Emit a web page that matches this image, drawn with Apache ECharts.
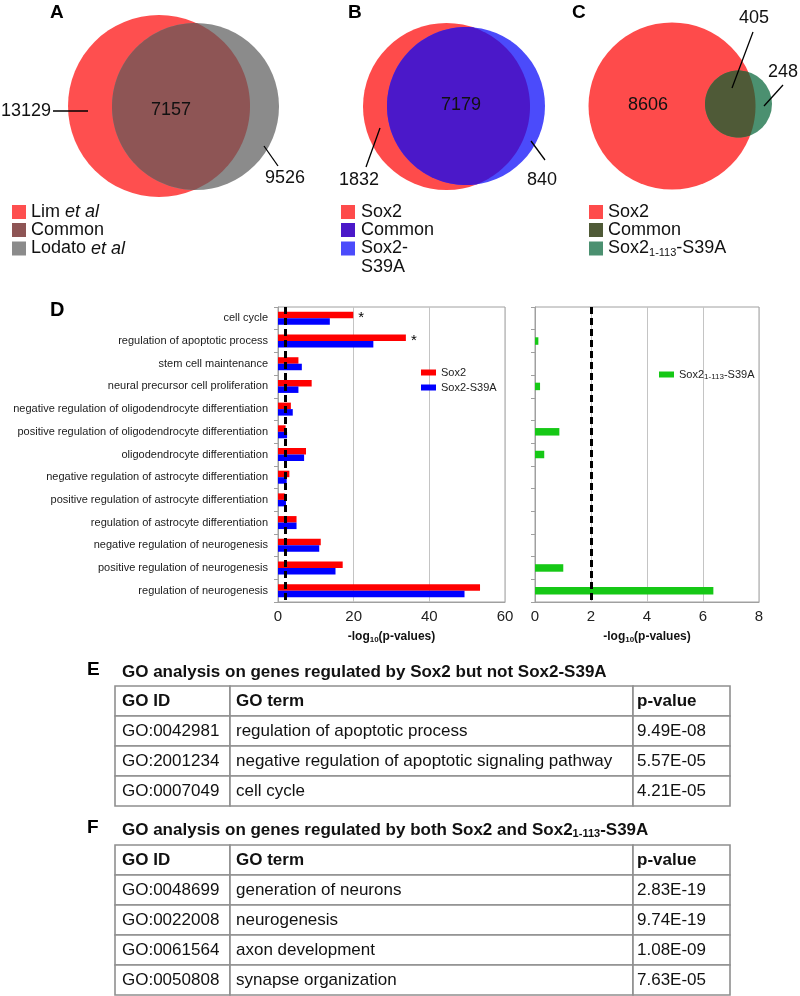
<!DOCTYPE html>
<html><head><meta charset="utf-8">
<script src="https://cdn.jsdelivr.net/npm/echarts@6/dist/echarts.min.js"></script>
<style>html,body{margin:0;padding:0;background:#fff}#c{width:800px;height:996px}</style>
</head><body><div id="c"></div>
<script>
// ================= DATA =================
const vennACounts = [13129, 7157, 9526];
const vennANames = ['Lim et al', 'Common', 'Lodato et al'];
const vennBCounts = [1832, 7179, 840];
const vennBNames = ['Sox2', 'Common', 'Sox2-S39A'];
const vennCCounts = [8606, 405, 248];
const vennCNames = ['Sox2', 'Common', 'Sox2₁₋₁₁₃-S39A'];

const goCategories = [
  'cell cycle',
  'regulation of apoptotic process',
  'stem cell maintenance',
  'neural precursor cell proliferation',
  'negative regulation of oligodendrocyte differentiation',
  'positive regulation of oligodendrocyte differentiation',
  'oligodendrocyte differentiation',
  'negative regulation of astrocyte differentiation',
  'positive regulation of astrocyte differentiation',
  'regulation of astrocyte differentiation',
  'negative regulation of neurogenesis',
  'positive regulation of neurogenesis',
  'regulation of neurogenesis'
];
const sox2Values      = [19.9, 33.8, 5.4, 8.9, 3.4, 2.0, 7.4, 3.0, 1.8, 4.9, 11.3, 17.1, 53.4];
const sox2S39AValues  = [13.7, 25.2, 6.3, 5.4, 3.9, 2.4, 6.9, 2.3, 2.1, 4.9, 10.9, 15.2, 49.3];
const sox2TruncValues = [null, 0.12, null, 0.18, null, 0.87, 0.33, null, null, null, null, 1.01, 6.37];
const sox2Starred     = [true, true, false, false, false, false, false, false, false, false, false, false, false];
const significanceThreshold = 2;
const seriesNames = ['Sox2', 'Sox2-S39A', 'Sox2₁₋₁₁₃-S39A'];

const tableHeader = ['GO ID', 'GO term', 'p-value'];
const tableETitle = 'GO analysis on genes regulated by Sox2 but not Sox2-S39A';
const tableEIds   = ['GO:0042981', 'GO:2001234', 'GO:0007049'];
const tableETerms = ['regulation of apoptotic process', 'negative regulation of apoptotic signaling pathway', 'cell cycle'];
const tableEPvals = ['9.49E-08', '5.57E-05', '4.21E-05'];
const tableFTitle = 'GO analysis on genes regulated by both Sox2 and Sox2₁₋₁₁₃-S39A';
const tableFIds   = ['GO:0048699', 'GO:0022008', 'GO:0061564', 'GO:0050808'];
const tableFTerms = ['generation of neurons', 'neurogenesis', 'axon development', 'synapse organization'];
const tableFPvals = ['2.83E-19', '9.74E-19', '1.08E-09', '7.63E-05'];

// ================= LAYOUT / STYLE =================
const FONT = "'Liberation Sans', Arial, Helvetica, sans-serif";
const vennLayout = [
  { counts: vennACounts, names: vennANames,
    c1: [159, 106, 91], c2: [195.5, 106.5, 83.5],
    colors: ['#fe4f4f', '#8e5555', '#8b8b8b'],
    labels: [[51, 111, 'right'], [171, 110, 'center'], [265, 178, 'left']],
    lines: [[53, 111, 88, 111], null, [264, 146, 278, 166]],
    legend: { x: 12, tx: 31, rows: [212, 230, 248.5] } },
  { counts: vennBCounts, names: vennBNames,
    c1: [446.5, 106.5, 83.5], c2: [466, 106, 79],
    colors: ['#fe4b4b', '#4b18c9', '#4b4bfb'],
    labels: [[359, 180, 'center'], [461, 105, 'center'], [527, 180, 'left']],
    lines: [[380, 128, 366, 167], null, [531, 141, 545, 160]],
    legend: { x: 341, tx: 361, rows: [212, 230, 248.5], breakLast: true } },
  { counts: vennCCounts, names: vennCNames,
    c1: [672, 106, 83.5], c2: [738.5, 104, 33.5],
    colors: ['#fe4b4b', '#4f5a37', '#4b9070'],
    labels: [[648, 105, 'center'], [754, 18, 'center'], [768, 72, 'left']],
    lines: [null, [753, 32, 732, 88], [783, 85, 764, 106]],
    legend: { x: 589, tx: 608, rows: [212, 230, 248.5] } }
];
const tableLayout = [
  { title: tableETitle, ids: tableEIds, terms: tableETerms, pvals: tableEPvals, top: 686 },
  { title: tableFTitle, ids: tableFIds, terms: tableFTerms, pvals: tableFPvals, top: 845 }
];
const colEdges = [115, 230, 633, 730];
const colPad = [7, 6, 4];
const rowH = 30;

function richName(s) {
  return s.replace(/et al/g, '{i|et al}').replace('₁₋₁₁₃', '{s|1-113}');
}

function lensPolygon(c1, c2, n) {
  const [x1, y1, r1] = c1, [x2, y2, r2] = c2;
  const dx = x2 - x1, dy = y2 - y1, d = Math.hypot(dx, dy);
  const phi = Math.atan2(dy, dx);
  const a = (d * d + r1 * r1 - r2 * r2) / (2 * d);
  const b = d - a;
  const al1 = Math.acos(Math.max(-1, Math.min(1, a / r1)));
  const al2 = Math.acos(Math.max(-1, Math.min(1, b / r2)));
  const pts = [];
  for (let k = 0; k <= n; k++) { const t = phi - al1 + 2 * al1 * k / n; pts.push([x1 + r1 * Math.cos(t), y1 + r1 * Math.sin(t)]); }
  for (let k = 0; k <= n; k++) { const t = phi + Math.PI - al2 + 2 * al2 * k / n; pts.push([x2 + r2 * Math.cos(t), y2 + r2 * Math.sin(t)]); }
  return pts;
}

function renderVenn(params, api) {
  const L = vennLayout[params.dataIndex];
  const P = (x, y) => api.coord([x, y]);
  const sc = api.size([1, 1])[0];
  const ch = [];
  const circ = (c, fill) => { const p = P(c[0], c[1]); ch.push({ type: 'circle', shape: { cx: p[0], cy: p[1], r: c[2] * sc }, style: { fill } }); };
  circ(L.c1, L.colors[0]);
  circ(L.c2, L.colors[2]);
  ch.push({ type: 'polygon', shape: { points: lensPolygon(L.c1, L.c2, 80).map(q => P(q[0], q[1])) }, style: { fill: L.colors[1] } });
  L.lines.forEach(ln => {
    if (!ln) return;
    const a = P(ln[0], ln[1]), b = P(ln[2], ln[3]);
    ch.push({ type: 'line', shape: { x1: a[0], y1: a[1], x2: b[0], y2: b[1] }, style: { stroke: '#000', lineWidth: 1.3 } });
  });
  L.labels.forEach((lb, k) => {
    const p = P(lb[0], lb[1]);
    ch.push({ type: 'text', x: p[0], y: p[1], style: { text: String(L.counts[k]), fontSize: 18, fontFamily: FONT, fill: '#111', align: lb[2], verticalAlign: 'middle' } });
  });
  L.names.forEach((nm, k) => {
    const sy = L.legend.rows[k];
    const p = P(L.legend.x, sy - 7);
    ch.push({ type: 'rect', shape: { x: p[0], y: p[1], width: 14, height: 14 }, style: { fill: L.colors[k] } });
    let txt = richName(nm);
    if (L.legend.breakLast && k === 2) txt = txt.replace('-', '-\n');
    const tp = P(L.legend.tx, sy - 9.5);
    ch.push({ type: 'text', x: tp[0], y: tp[1], style: {
      text: txt, fontSize: 18, fontFamily: FONT, fill: '#111', align: 'left', verticalAlign: 'top', lineHeight: 19,
      rich: { i: { fontStyle: 'italic', fontSize: 18, fontFamily: FONT, fill: '#111', lineHeight: 19 },
              s: { fontSize: 11, fontFamily: FONT, fill: '#111', verticalAlign: 'top', padding: [8, 0, 0, 0], lineHeight: 11 } } } });
  });
  return { type: 'group', children: ch };
}

const tableRows = [];
tableLayout.forEach((t, ti) => { for (let r = 0; r <= t.ids.length; r++) tableRows.push([ti, r]); });

function renderTable(params, api) {
  const [ti, r] = tableRows[params.dataIndex];
  const T = tableLayout[ti];
  const cells = r === 0 ? tableHeader : [T.ids[r - 1], T.terms[r - 1], T.pvals[r - 1]];
  const y0 = T.top + r * rowH;
  const ch = [];
  for (let c = 0; c < 3; c++) {
    const a = api.coord([colEdges[c], y0]), b = api.coord([colEdges[c + 1], y0 + rowH]);
    ch.push({ type: 'rect', shape: { x: a[0], y: a[1], width: b[0] - a[0], height: b[1] - a[1] }, style: { fill: '#fff', stroke: '#8f8f8f', lineWidth: 1.6 } });
    const tp = api.coord([colEdges[c] + colPad[c], y0 + rowH / 2 + 0.5]);
    ch.push({ type: 'text', x: tp[0], y: tp[1], style: { text: cells[c], fontSize: 17, fontFamily: FONT, fontWeight: r === 0 ? 'bold' : 'normal', fill: '#111', align: 'left', verticalAlign: 'middle' } });
  }
  return { type: 'group', children: ch };
}

const letterStyle = (size) => ({ fontSize: size, fontWeight: 'bold', color: '#000', fontFamily: FONT, lineHeight: 24 });
const titleRich = {
  b: { fontSize: 17, fontWeight: 'bold', color: '#111', fontFamily: FONT, lineHeight: 20 },
  s: { fontSize: 11, fontWeight: 'bold', color: '#111', fontFamily: FONT, verticalAlign: 'top', padding: [8, 0, 0, 0], lineHeight: 11 }
};
const axisNameRich = {
  b: { fontSize: 12, fontWeight: 'bold', color: '#111', fontFamily: FONT, lineHeight: 14 },
  s: { fontSize: 8, fontWeight: 'bold', color: '#111', fontFamily: FONT, verticalAlign: 'top', padding: [6, 0, 0, 0], lineHeight: 8 }
};
const thresholdLine = {
  silent: true, symbol: ['none', 'none'], label: { show: false },
  lineStyle: { color: '#000', type: [7, 4], width: 3 },
  data: [{ xAxis: significanceThreshold }]
};

const valueAxisCommon = {
  type: 'value',
  axisLine: { show: true, lineStyle: { color: '#a0a0a0' } },
  axisTick: { show: false },
  axisLabel: { fontSize: 15, color: '#222', margin: 7, fontFamily: FONT },
  splitLine: { show: true, lineStyle: { color: '#c4c4c4', width: 1 } },
  name: '{b|-log}{s|10}{b|(p-values)}', nameLocation: 'middle', nameGap: 28,
  nameTextStyle: { rich: axisNameRich }
};
const catAxisCommon = {
  type: 'category', data: goCategories, inverse: true,
  axisLine: { show: true, lineStyle: { color: '#a0a0a0' } },
  axisTick: { show: true, length: 4, lineStyle: { color: '#a0a0a0' } },
  splitLine: { show: false }
};

const chart = echarts.init(document.getElementById('c'), null, { renderer: 'canvas' });
chart.setOption({
  animation: false,
  backgroundColor: '#fff',
  textStyle: { fontFamily: FONT },
  title: [
    { text: 'A', left: 50, top: 1, padding: 0, textStyle: letterStyle(19) },
    { text: 'B', left: 348, top: 1, padding: 0, textStyle: letterStyle(19) },
    { text: 'C', left: 572, top: 1, padding: 0, textStyle: letterStyle(19) },
    { text: 'D', left: 50, top: 298, padding: 0, textStyle: letterStyle(20) },
    { text: 'E', left: 87, top: 658, padding: 0, textStyle: letterStyle(19) },
    { text: 'F', left: 87, top: 816, padding: 0, textStyle: letterStyle(19) },
    { text: '{b|' + tableETitle + '}', left: 122, top: 662, padding: 0, textStyle: { rich: titleRich } },
    { text: '{b|' + tableFTitle.replace('₁₋₁₁₃', '}{s|1-113}{b|') + '}', left: 122, top: 820, padding: 0, textStyle: { rich: titleRich } }
  ],
  legend: [
    { data: [seriesNames[0], seriesNames[1]], left: 421, top: 367, orient: 'vertical', icon: 'rect',
      itemWidth: 15, itemHeight: 6, itemGap: 4, padding: 0, textStyle: { fontSize: 11, color: '#222', fontFamily: FONT } },
    { data: [seriesNames[2]], left: 659, top: 368, orient: 'vertical', icon: 'rect',
      itemWidth: 15, itemHeight: 6, padding: 0,
      formatter: n => '{a|' + n.replace('₁₋₁₁₃', '}{s|1-113}{a|') + '}',
      textStyle: { rich: {
        a: { fontSize: 11, color: '#222', fontFamily: FONT, lineHeight: 13 },
        s: { fontSize: 8, color: '#222', fontFamily: FONT, verticalAlign: 'top', padding: [5, 0, 0, 0], lineHeight: 8 } } } }
  ],
  grid: [
    { left: 278, top: 307, width: 227, height: 295, show: true, borderColor: '#a0a0a0', borderWidth: 1 },
    { left: 535, top: 307, width: 224, height: 295, show: true, borderColor: '#a0a0a0', borderWidth: 1 },
    { left: 0, top: 0, width: 800, height: 996, show: false }
  ],
  xAxis: [
    Object.assign({}, valueAxisCommon, { gridIndex: 0, min: 0, max: 60, interval: 20 }),
    Object.assign({}, valueAxisCommon, { gridIndex: 1, min: 0, max: 8, interval: 2 }),
    { gridIndex: 2, type: 'value', min: 0, max: 800, show: false }
  ],
  yAxis: [
    Object.assign({}, catAxisCommon, { gridIndex: 0, axisLabel: { fontSize: 11, color: '#1a1a1a', margin: 10, fontFamily: FONT } }),
    Object.assign({}, catAxisCommon, { gridIndex: 1, axisLabel: { show: false } }),
    { gridIndex: 2, type: 'value', min: 0, max: 996, inverse: true, show: false }
  ],
  series: [
    { type: 'bar', name: seriesNames[0], xAxisIndex: 0, yAxisIndex: 0, barWidth: 6.5, barGap: '0%',
      itemStyle: { color: '#ff0000' },
      data: sox2Values.map((v, i) => sox2Starred[i]
        ? { value: v, label: { show: true, position: 'right', distance: 5, formatter: '*', fontSize: 15, color: '#000', offset: [0, 3] } }
        : v),
      markLine: thresholdLine, z: 2 },
    { type: 'bar', name: seriesNames[1], xAxisIndex: 0, yAxisIndex: 0, barWidth: 6.5, barGap: '0%',
      itemStyle: { color: '#0000ff' }, data: sox2S39AValues, z: 2 },
    { type: 'bar', name: seriesNames[2], xAxisIndex: 1, yAxisIndex: 1, barWidth: 7.5,
      itemStyle: { color: '#16c816' }, data: sox2TruncValues, markLine: thresholdLine, z: 2 },
    { type: 'custom', name: 'venn', xAxisIndex: 2, yAxisIndex: 2, silent: true,
      data: vennLayout.map((v, i) => [i, 0]), renderItem: renderVenn, z: 1 },
    { type: 'custom', name: 'tables', xAxisIndex: 2, yAxisIndex: 2, silent: true,
      data: tableRows.map((r, i) => [i, 0]), renderItem: renderTable, z: 1 }
  ]
});
</script>
</body></html>
